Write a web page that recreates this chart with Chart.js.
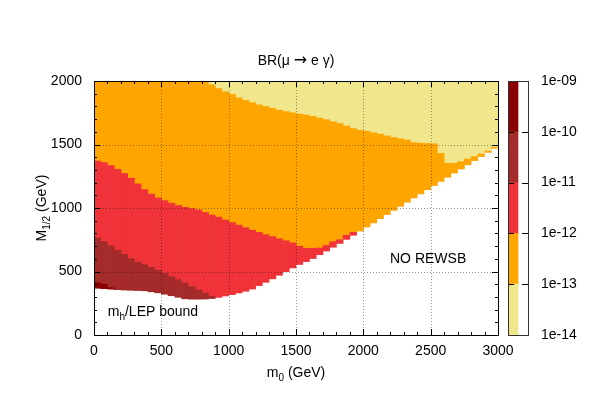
<!DOCTYPE html>
<html>
<head>
<meta charset="utf-8">
<script src="https://cdn.jsdelivr.net/npm/chart.js@4/dist/chart.umd.min.js"></script>
<style>
  body { margin: 0; background: #fff; }
  #wrap { position: relative; width: 592px; height: 415px; }
  canvas { position: absolute; top: 0; }
  #map { left: 0; }
  #bar { left: 480px; }
</style>
</head>
<body>
<div id="wrap">
  <canvas id="map" width="592" height="415"></canvas>
  <canvas id="bar" width="112" height="415"></canvas>
</div>
<script>
// column centres in m0 (GeV), 50 GeV wide cells
var m0 = [25, 75, 125, 175, 225, 275, 325, 375, 425, 475,
          525, 575, 625, 675, 725, 775, 825, 875, 925, 975,
          1025, 1075, 1125, 1175, 1225, 1275, 1325, 1375, 1425, 1475,
          1525, 1575, 1625, 1675, 1725, 1775, 1825, 1875, 1925, 1975,
          2025, 2075, 2125, 2175, 2225, 2275, 2325, 2375, 2425, 2475,
          2525, 2575, 2625, 2675, 2725, 2775, 2825, 2875, 2925, 2975];

// lower edge of the allowed region (mh/LEP bound, then NO REWSB line)
var lowerBound = [368, 365, 361, 357, 354, 352, 350, 348, 340, 332,
                  321, 309, 297, 285, 282, 282, 283, 287, 296, 307,
                  318, 331, 344, 362, 389, 415, 442, 470, 499, 528,
                  555, 578, 602, 632, 661, 691, 721, 753, 785, 818,
                  850, 883, 916, 948, 981, 1013, 1046, 1079, 1111, 1144,
                  1177, 1209, 1242, 1275, 1307, 1340, 1373, 1405, 1438, 1470];

// upper edge of each BR band in M1/2 (missing = band not present in that column)
var darkRedTop = [412, 400, 372];
var brownTop = [762, 735, 702, 667, 635, 600, 572, 553, 533, 510,
                485, 458, 435, 409, 382, 355, 330, 305];
var redTop = [1370, 1358, 1335, 1305, 1272, 1235, 1190, 1145, 1110, 1080,
              1058, 1038, 1020, 1005, 995, 985, 965, 945, 928, 905,
              885, 865, 845, 825, 808, 790, 775, 758, 742, 725,
              700, 683, 683, 685, 705, 735, 750, 785, 808];
var orangeTop = [2000, 2000, 2000, 2000, 2000, 2000, 2000, 2000, 2000, 2000,
                 2000, 2000, 2000, 2000, 2000, 2000, 2000, 1970, 1940, 1915,
                 1895, 1868, 1848, 1830, 1812, 1798, 1785, 1772, 1760, 1750,
                 1740, 1732, 1722, 1708, 1695, 1680, 1665, 1645, 1625, 1612,
                 1605, 1592, 1582, 1568, 1555, 1545, 1535, 1515, 1510, 1508,
                 1506, 1430, 1352, 1352, 1365, 1385, 1405, 1425, 1448, 1478];

var levels = [1e-14, 1e-13, 1e-12, 1e-11, 1e-10, 1e-9];
var levelLabels = ['1e-14', '1e-13', '1e-12', '1e-11', '1e-10', '1e-09'];
var bandColors = ['#f0e68c', '#ffa500', '#ef3338', '#a52a2a', '#8b0000'];

var FONT = '"Liberation Sans", Arial, sans-serif';

// k: 0 darkred, 1 brown, 2 red, 3 orange, 4 khaki
function bandData(k) {
  return m0.map(function(x, i) {
    var tops = [lowerBound[i], darkRedTop[i], brownTop[i], redTop[i], orangeTop[i], 2000];
    for (var t = 1; t < tops.length; t++) if (tops[t] === undefined) tops[t] = null;
    if (tops[k + 1] === null) return {x: x, y: null};
    var lo = lowerBound[i];
    for (var j = 1; j <= k; j++) if (tops[j] !== null) lo = tops[j];
    if (tops[k + 1] <= lo) return {x: x, y: null};
    return {x: x, y: [lo, tops[k + 1]]};
  });
}

var mapColors = ['#8b0000', '#a52a2a', '#ef3338', '#ffa500', '#f0e68c'];
var datasets = mapColors.map(function(c, k) {
  return {
    data: bandData(k),
    backgroundColor: c,
    borderWidth: 0,
    grouped: false,
    barPercentage: 1,
    categoryPercentage: 1
  };
});

// parts: [text, isSubscript, fontOverride]
function partFont(p) {
  if (p[2]) return p[2];
  return (p[1] ? '10px ' : '14px ') + FONT;
}
function subText(ctx, parts, x, y, align) {
  var w = 0;
  parts.forEach(function(p) {
    ctx.font = partFont(p);
    w += ctx.measureText(p[0]).width;
  });
  var cx = align === 'center' ? x - w / 2 : x;
  ctx.textAlign = 'left';
  ctx.textBaseline = 'alphabetic';
  parts.forEach(function(p) {
    ctx.font = partFont(p);
    ctx.fillText(p[0], cx, y + (p[1] ? 4 : 0));
    cx += ctx.measureText(p[0]).width;
  });
}

var framePlugin = {
  id: 'frame',
  afterDatasetsDraw: function(chart) {
    var ctx = chart.ctx, a = chart.chartArea;
    var xs = chart.scales.x, ys = chart.scales.y;
    ctx.save();
    // dotted grid
    ctx.strokeStyle = 'rgba(0,0,0,0.4)';
    ctx.lineWidth = 1;
    ctx.setLineDash([1, 2]);
    [500, 1000, 1500, 2000, 2500].forEach(function(v) {
      var px = Math.round(xs.getPixelForValue(v)) + 0.5;
      ctx.beginPath(); ctx.moveTo(px, a.top); ctx.lineTo(px, a.bottom); ctx.stroke();
    });
    [500, 1000, 1500].forEach(function(v) {
      var py = Math.round(ys.getPixelForValue(v)) + 0.5;
      ctx.beginPath(); ctx.moveTo(a.left, py); ctx.lineTo(a.right, py); ctx.stroke();
    });
    ctx.setLineDash([]);
    // frame and inward ticks
    ctx.strokeStyle = '#000';
    ctx.strokeRect(Math.round(a.left) + 0.5, Math.round(a.top) + 0.5,
                   Math.round(a.right - a.left), Math.round(a.bottom - a.top));
    ctx.beginPath();
    for (var v = 0; v <= 3000; v += 100) {
      var len = v % 500 === 0 ? 6 : 3;
      var px = Math.round(xs.getPixelForValue(v)) + 0.5;
      ctx.moveTo(px, a.bottom); ctx.lineTo(px, a.bottom - len);
      ctx.moveTo(px, a.top); ctx.lineTo(px, a.top + len);
    }
    for (var u = 0; u <= 2000; u += 100) {
      var len2 = u % 500 === 0 ? 6 : 3;
      var py = Math.round(ys.getPixelForValue(u)) + 0.5;
      ctx.moveTo(a.left, py); ctx.lineTo(a.left + len2, py);
      ctx.moveTo(a.right, py); ctx.lineTo(a.right - len2, py);
    }
    ctx.stroke();
    ctx.restore();
  },
  afterDraw: function(chart) {
    var ctx = chart.ctx, a = chart.chartArea;
    var xs = chart.scales.x, ys = chart.scales.y;
    var cx = (a.left + a.right) / 2, cy = (a.top + a.bottom) / 2;
    ctx.save();
    ctx.fillStyle = '#000';
    subText(ctx, [['BR(\u03bc '], ['\u2192', false, '16px "DejaVu Sans"'], [' e \u03b3)']], cx, 65, 'center');
    subText(ctx, [['m'], ['0', true], [' (GeV)']], cx, 377, 'center');
    subText(ctx, [['NO REWSB']], xs.getPixelForValue(2198), ys.getPixelForValue(565), 'left');
    subText(ctx, [['m'], ['h', true], ['/LEP bound']], xs.getPixelForValue(102), ys.getPixelForValue(146), 'left');
    ctx.translate(46, cy);
    ctx.rotate(-Math.PI / 2);
    subText(ctx, [['M'], ['1/2', true], [' (GeV)']], 0, 0, 'center');
    ctx.restore();
  }
};

function plainTick(v) { return String(v); }

new Chart(document.getElementById('map'), {
  type: 'bar',
  data: {datasets: datasets},
  options: {
    responsive: false,
    animation: false,
    events: [],
    layout: {padding: {top: 81, right: 94, bottom: 0, left: 0}},
    plugins: {legend: {display: false}, tooltip: {enabled: false}},
    scales: {
      x: {
        type: 'linear', min: 0, max: 3000, offset: false,
        grid: {display: false, drawTicks: false, offset: false},
        border: {display: false},
        ticks: {stepSize: 500, padding: 8, color: '#000', font: {family: FONT, size: 14}, callback: plainTick},
        afterFit: function(s) { s.height = 80; }
      },
      y: {
        type: 'linear', min: 0, max: 2000,
        grid: {display: false, drawTicks: false},
        border: {display: false},
        ticks: {stepSize: 500, padding: 12, color: '#000', font: {family: FONT, size: 14}, callback: plainTick},
        afterFit: function(s) { s.width = 94; }
      }
    }
  },
  plugins: [framePlugin]
});

// colour box
var boxPlugin = {
  id: 'box',
  afterDatasetsDraw: function(chart) {
    var ctx = chart.ctx, a = chart.chartArea, ys = chart.scales.y;
    ctx.save();
    ctx.strokeStyle = '#000';
    ctx.lineWidth = 1;
    ctx.beginPath();
    levels.slice(1, -1).forEach(function(v) {
      var py = Math.round(ys.getPixelForValue(v)) + 0.5;
      ctx.moveTo(a.left, py); ctx.lineTo(a.left + 6, py);
      ctx.moveTo(a.right, py); ctx.lineTo(a.right - 6, py);
    });
    ctx.stroke();
    ctx.strokeStyle = '#333';
    ctx.strokeRect(Math.round(a.left) + 0.5, Math.round(a.top) + 0.5,
                   Math.round(a.right - a.left), Math.round(a.bottom - a.top));
    ctx.restore();
  }
};

new Chart(document.getElementById('bar'), {
  type: 'bar',
  data: {
    labels: ['BR'],
    datasets: bandColors.map(function(c, i) {
      return {
        data: [[levels[i], levels[i + 1]]],
        backgroundColor: c,
        borderWidth: 0,
        grouped: false,
        barPercentage: 1,
        categoryPercentage: 1
      };
    })
  },
  options: {
    responsive: false,
    animation: false,
    events: [],
    layout: {padding: {top: 81, right: 0, bottom: 80, left: 28}},
    plugins: {legend: {display: false}, tooltip: {enabled: false}},
    scales: {
      x: {display: false, offset: false},
      y: {
        type: 'logarithmic', position: 'right', min: 1e-14, max: 1e-9,
        grid: {display: false, drawTicks: false},
        border: {display: false},
        afterBuildTicks: function(s) { s.ticks = levels.map(function(v) { return {value: v}; }); },
        ticks: {
          padding: 13, color: '#000', font: {family: FONT, size: 14},
          callback: function(v, i) { return levelLabels[i]; }
        },
        afterFit: function(s) { s.width = 64; }
      }
    }
  },
  plugins: [boxPlugin]
});
</script>
</body>
</html>
